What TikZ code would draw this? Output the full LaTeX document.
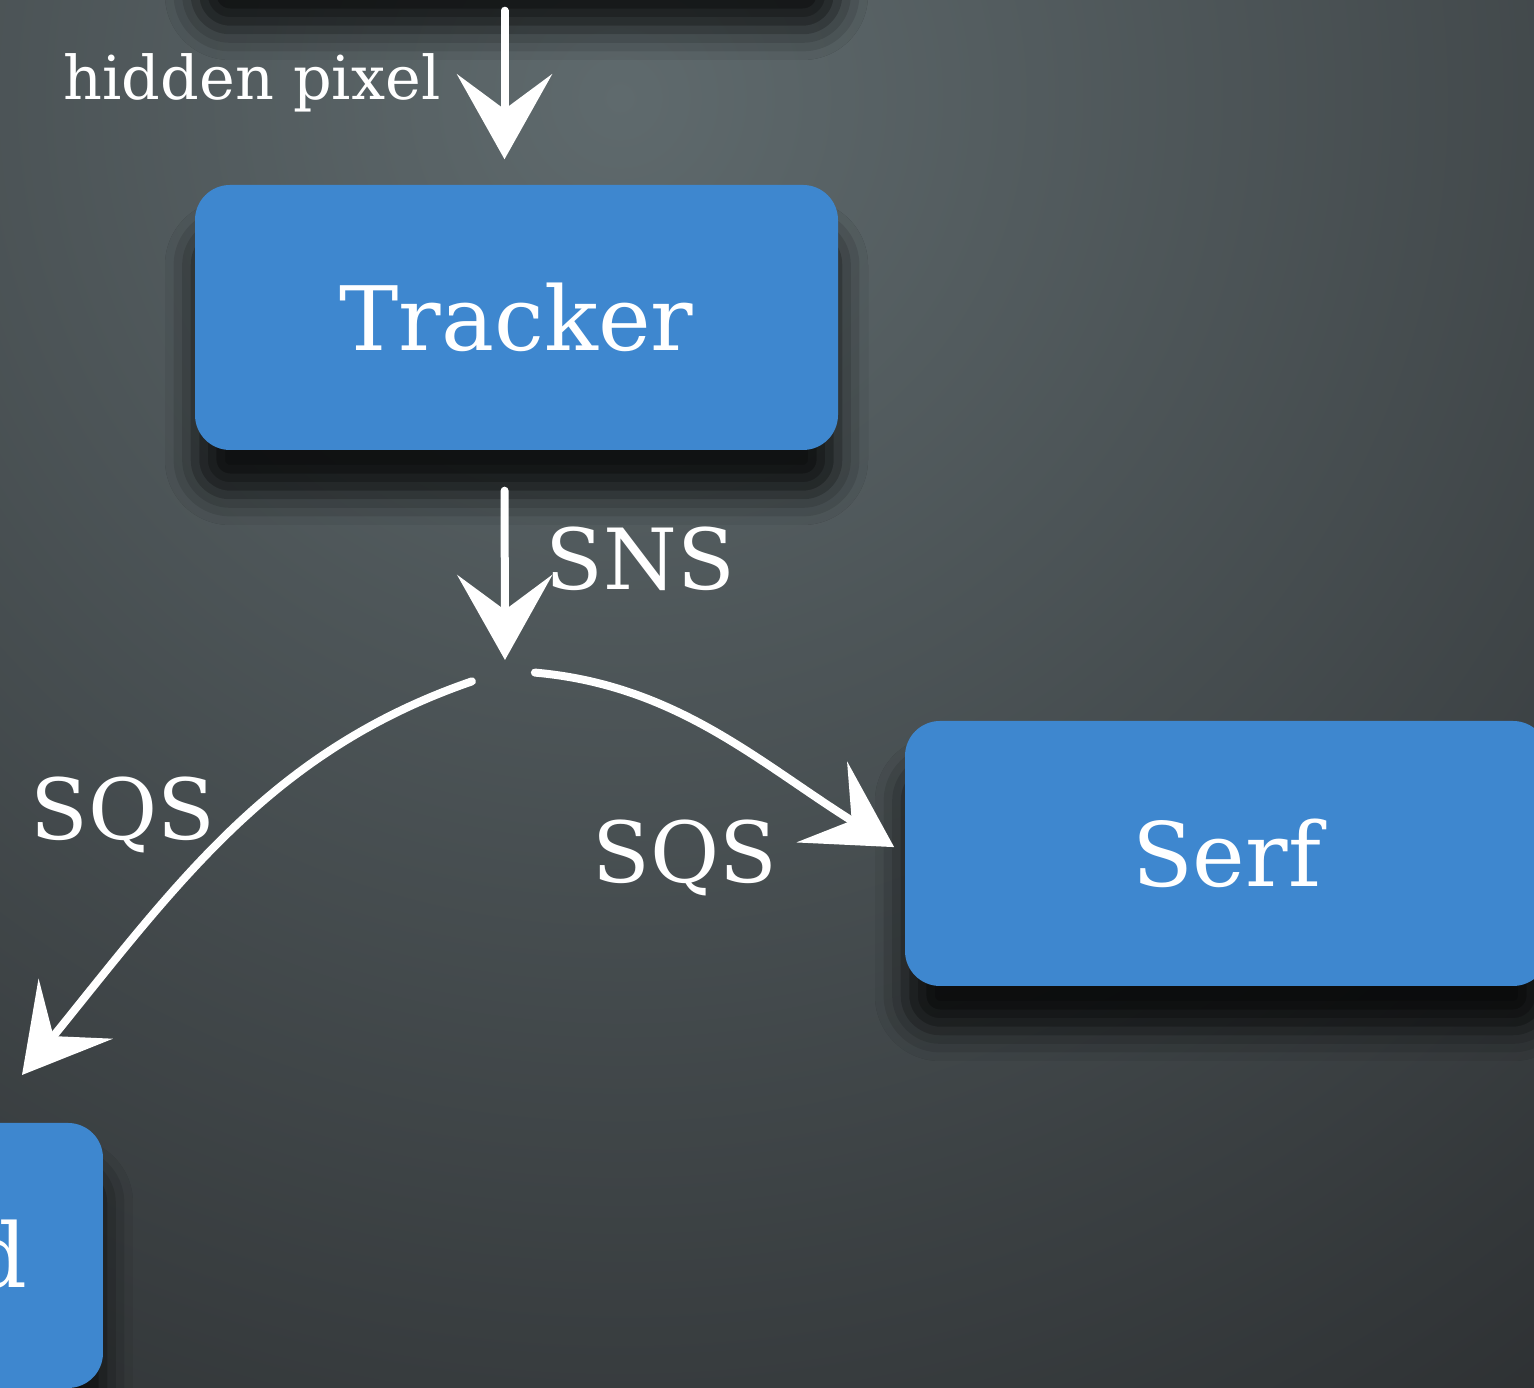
\documentclass[tikz,border=0pt]{standalone}
\usepackage{fontspec}
\setmainfont{DejaVu Serif}
\usetikzlibrary{arrows.meta,shadows.blur}

\definecolor{bgLight}{RGB}{95,106,109}
\definecolor{bgDark}{RGB}{38,40,42}
\definecolor{boxBlue}{RGB}{62,135,207}

\tikzset{
  stage/.style={fill=boxBlue, draw=none, rounded corners=3.5mm, minimum width=64.3mm, minimum height=26.5mm, inner sep=0pt,
    blur shadow={shadow xshift=0mm, shadow yshift=-4.5mm, shadow blur radius=3mm, shadow opacity=80}},
  bigtext/.style={text=white, font=\fontsize{25.3}{30}\selectfont, inner sep=0pt},
  labeltext/.style={text=white, font=\fontsize{24}{29}\selectfont, inner sep=0pt},
  smalltext/.style={text=white, font=\fontsize{17.2}{20}\selectfont, inner sep=0pt},
  chalk/.style={draw=white, line width=0.8mm, line cap=round, -{Stealth[length=8.5mm, width=9.5mm, inset=3.5mm]}}
}

\begin{document}
\begin{tikzpicture}[x=0.1mm, y=0.1mm]
			\useasboundingbox (0,0) rectangle (1534,1388);
			\clip (0,0) rectangle (1534,1388);
			% chalkboard
			\fill[bgDark] (0,0) rectangle (1534,1388);
			\shade[inner color=bgLight, outer color=bgDark] (620,1290) circle (1850);

			% boxes
			\node[stage] (top) at (516.5,1535.5) {};
			\node[stage] (tracker) at (516.5,1070.5) {};
			\node[stage] (serf) at (1226.5,534.5) {};
			\node[stage] (backend) at (-218.5,132.5) {};
			\node[bigtext] at (tracker) {Tracker};
			\node[bigtext] at (serf) {Serf};
			\node[bigtext, anchor=base east] (backendname) at (28,100) {d};

			\coordinate (split) at (505,718);
			\coordinate (lefttip) at (22,313);

			% chalk arrows
			\draw[chalk, shorten <=2.5mm, shorten >=2.5mm] ([xshift=-1.2mm]top.south) -- ([xshift=-1.2mm]tracker.north);
			\draw[chalk, shorten <=4mm, shorten >=1mm] ([xshift=-1.2mm]tracker.south) -- (split);
			\draw[chalk, shorten <=3.5mm] (split) to[out=199, in=51] (lefttip);
			\draw[chalk, shorten <=3mm, shorten >=1.2mm] (split) to[out=-5, in=148] (serf.west);

			% labels
			\node[smalltext, anchor=base west] (hidden) at (63,1288) {hidden pixel};
			\node[labeltext, anchor=base west] (sns) at (545,798) {SNS};
			\node[labeltext, anchor=base west] (sqsleft) at (30,548) {SQS};
			\node[labeltext, anchor=base west] (sqsright) at (592,505) {SQS};
		\end{tikzpicture}
\end{document}
